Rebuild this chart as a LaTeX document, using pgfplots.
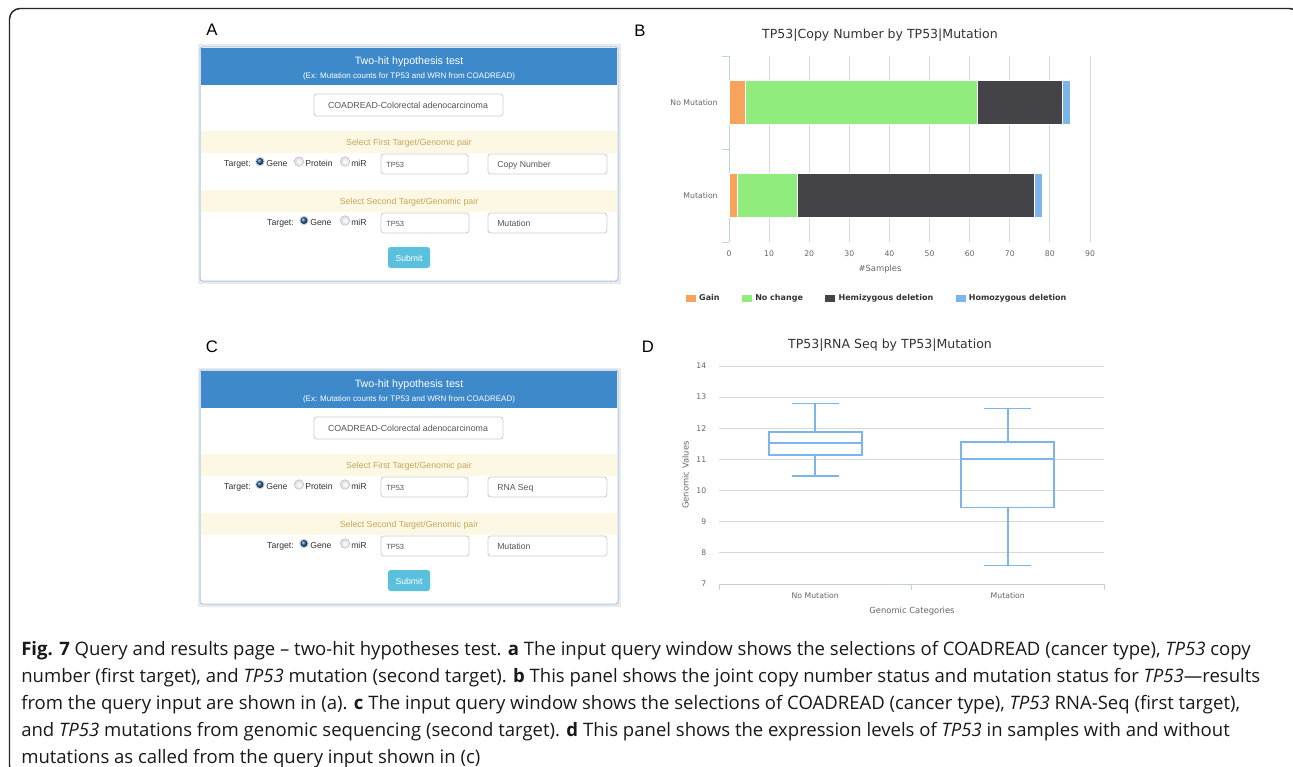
\documentclass[border=0pt]{standalone}
\usepackage{pgfplots}
\pgfplotsset{compat=1.18}
\usepgfplotslibrary{statistics}
\usepackage{fontspec}
\setmainfont{Liberation Sans}
\newfontfamily\chartf{DejaVu Sans}
\newfontfamily\capf{Open Sans}
\newfontfamily\formf{Liberation Sans}
\newcommand{\fsz}[1]{\fontsize{#1}{#1}\selectfont}

\definecolor{hcorange}{HTML}{F7A35C}
\definecolor{hcgreen}{HTML}{90ED7D}
\definecolor{hcdark}{HTML}{434348}
\definecolor{hcblue}{HTML}{7CB5EC}
\definecolor{gridgray}{HTML}{D8D8D8}
\definecolor{axisblue}{HTML}{C0D0E0}
\definecolor{tickgray}{HTML}{666666}
\definecolor{titlegray}{HTML}{333333}
\definecolor{hdrblue}{HTML}{3D89C9}
\definecolor{panelborder}{HTML}{A8CBEA}
\definecolor{bandyellow}{HTML}{FCF8E3}
\definecolor{bandtext}{HTML}{C9A55A}
\definecolor{inputborder}{HTML}{CCCCCC}
\definecolor{inputtext}{HTML}{555555}
\definecolor{btncyan}{HTML}{5BC0DE}
\definecolor{shadowgray}{HTML}{EAEAEA}
\definecolor{radioblue}{HTML}{1F5F9F}
\definecolor{formtext}{HTML}{333333}

\pgfplotstableread{
y  gain nochange hemi homo
0  2    15       59   2
1  4    58       21   2
}\cnvtable

\newcommand{\radioon}[2]{%
  \fill[gray!35] (#1,#2) circle (3.6pt);
  \shade[ball color=radioblue] (#1,#2) circle (2.6pt);}
\newcommand{\radiooff}[2]{%
  \shade[inner color=white, outer color=gray!30] (#1,#2) circle (3.6pt);
  \draw[gray!55, line width=0.3pt] (#1,#2) circle (3.6pt);}

\newcommand{\form}[2]{%
\begin{scope}[shift={(0,#1)}]
  \fill[shadowgray] (198,44.5) rectangle (620.5,283.5);
  \filldraw[fill=white, draw=panelborder, line width=0.75pt, rounded corners=2pt] (200,47) rectangle (618,281);
  \fill[hdrblue] (200.6,47.6) rectangle (617.4,85);
  \node[text=white, font=\formf\fsz{8}, anchor=mid] at (409,61) {Two-hit hypothesis test};
  \node[text=white, font=\formf\fsz{6}, anchor=mid] at (409,74.5) {(Ex: Mutation counts for TP53 and WRN from COADREAD)};
  \filldraw[fill=white, draw=inputborder, line width=0.6pt, rounded corners=2pt] (314,94) rectangle (503,116);
  \node[text=inputtext, font=\formf\fsz{6.6}, anchor=mid] at (408,105) {COADREAD-Colorectal adenocarcinoma};
  \fill[bandyellow] (200.8,131) rectangle (617.2,153);
  \node[text=bandtext, font=\formf\fsz{6.6}, anchor=mid] at (409,142) {Select First Target/Genomic pair};
  \node[text=formtext, font=\formf\fsz{6.5}, anchor=mid east, inner sep=0pt] at (251,163) {Target:};
  \radioon{260}{161.5}
  \node[text=formtext, font=\formf\fsz{6.5}, anchor=mid west, inner sep=0pt] at (266,163) {Gene};
  \radiooff{299}{161.5}
  \node[text=formtext, font=\formf\fsz{6.5}, anchor=mid west, inner sep=0pt] at (305,163) {Protein};
  \radiooff{345}{161.5}
  \node[text=formtext, font=\formf\fsz{6.5}, anchor=mid west, inner sep=0pt] at (351,163) {miR};
  \filldraw[fill=white, draw=inputborder, line width=0.6pt, rounded corners=2pt] (381,154) rectangle (468,174);
  \node[text=inputtext, font=\formf\fsz{5.6}, anchor=mid west, inner sep=0pt] at (386,164) {TP53};
  \filldraw[fill=white, draw=inputborder, line width=0.6pt, rounded corners=2pt] (488,154) rectangle (607,174);
  \node[text=inputtext, font=\formf\fsz{6.5}, anchor=mid west, inner sep=0pt] at (497,164) {#2};
  \fill[bandyellow] (200.8,190) rectangle (617.2,212);
  \node[text=bandtext, font=\formf\fsz{6.6}, anchor=mid] at (409,201) {Select Second Target/Genomic pair};
  \node[text=formtext, font=\formf\fsz{6.5}, anchor=mid east, inner sep=0pt] at (294,222) {Target:};
  \radioon{304}{220.5}
  \node[text=formtext, font=\formf\fsz{6.5}, anchor=mid west, inner sep=0pt] at (310,222) {Gene};
  \radiooff{345}{220.5}
  \node[text=formtext, font=\formf\fsz{6.5}, anchor=mid west, inner sep=0pt] at (351,222) {miR};
  \filldraw[fill=white, draw=inputborder, line width=0.6pt, rounded corners=2pt] (381,213) rectangle (469,233);
  \node[text=inputtext, font=\formf\fsz{5.6}, anchor=mid west, inner sep=0pt] at (386,223) {TP53};
  \filldraw[fill=white, draw=inputborder, line width=0.6pt, rounded corners=2pt] (488,213) rectangle (607,233);
  \node[text=inputtext, font=\formf\fsz{6.5}, anchor=mid west, inner sep=0pt] at (497,223) {Mutation};
  \fill[btncyan, rounded corners=2pt] (388,247) rectangle (430,268);
  \node[text=white, font=\formf\fsz{6.5}, anchor=mid] at (409,257.5) {Submit};
\end{scope}}

\pgfplotsset{
  hcbar/.style={fill=#1, draw=white, line width=0.5pt,
    legend image code/.code={\fill[fill=#1] (0pt,-3pt) rectangle (8.25pt,3pt);}},
}

\begin{document}
\begin{tikzpicture}[x=0.75pt, y=-0.75pt]
\path[use as bounding box] (0,0) rectangle (1293,767);
\fill[white] (0,0) rectangle (1293,767);
\draw[line width=1.1pt, black!85, rounded corners=8pt] (9.5,8.5) rectangle (1300,776);

% panel labels
\node[font=\formf\fsz{12.5}, anchor=mid] at (212,32) {A};
\node[font=\formf\fsz{12.5}, anchor=mid] at (640,33) {B};
\node[font=\formf\fsz{12.5}, anchor=mid] at (212,349) {C};
\node[font=\formf\fsz{12.5}, anchor=mid] at (648,349) {D};

% forms
\form{0}{Copy Number}
\form{323}{RNA Seq}

% ---- Panel B ----
\node[font=\chartf\fsz{9.4}, text=titlegray, anchor=mid] at (880,35) {TP53|Copy Number by TP53|Mutation};
\begin{axis}[
  at={(546.75pt,-181.5pt)}, anchor=south west,
  scale only axis, width=270.75pt, height=139.5pt,
  xbar stacked, bar width=0.47,
  xmin=0, xmax=90, ymin=-0.5, ymax=1.5,
  xtick={0,10,...,90}, ytick={0,1}, yticklabels={Mutation,No Mutation},
  major tick length=0pt,
  extra y ticks={-0.5,0.5,1.5}, extra y tick labels={},
  extra y tick style={major tick length=5.25pt, tick align=outside, major tick style={draw=axisblue, line width=0.75pt}},
  xmajorgrids, major grid style={draw=gridgray, line width=0.75pt},
  axis x line*=bottom, axis y line*=left,
  x axis line style={draw=none}, y axis line style={-, draw=axisblue, line width=0.75pt},
  tick label style={font=\chartf\fsz{5.8}, text=tickgray},
  /pgf/number format/assume math mode=true,
  yticklabel style={xshift=-5pt},
  xticklabel style={yshift=-3pt},
  legend columns=4,
  legend cell align=left,
  legend style={at={(-0.123,-0.301)}, anchor=west, draw=none, fill=none, inner sep=0pt,
    font=\chartf\bfseries\fsz{6}, text=titlegray,
    /tikz/every even column/.append style={column sep=14pt}},
]
\addplot[hcbar=hcorange] table[x=gain, y=y] {\cnvtable};
\addlegendentry{Gain}
\addplot[hcbar=hcgreen] table[x=nochange, y=y] {\cnvtable};
\addlegendentry{No change}
\addplot[hcbar=hcdark] table[x=hemi, y=y] {\cnvtable};
\addlegendentry{Hemizygous deletion}
\addplot[hcbar=hcblue] table[x=homo, y=y] {\cnvtable};
\addlegendentry{Homozygous deletion}
\end{axis}
\node[font=\chartf\fsz{6.3}, text=tickgray, anchor=mid] at (880,268) {\#Samples};

% ---- Panel D ----
\node[font=\chartf\fsz{9.4}, text=titlegray, anchor=mid] at (890,345) {TP53|RNA Seq by TP53|Mutation};
\begin{axis}[
  at={(539.25pt,-438pt)}, anchor=south west,
  scale only axis, width=288.75pt, height=163.5pt,
  xmin=0.5, xmax=2.5, ymin=7, ymax=14,
  ytick={7,...,14}, xtick={1,2}, xticklabels={No Mutation,Mutation},
  major tick length=0pt,
  extra x ticks={0.5,1.5,2.5}, extra x tick labels={},
  extra x tick style={major tick length=4.5pt, tick align=outside, major tick style={draw=axisblue, line width=0.75pt}},
  ymajorgrids, major grid style={draw=gridgray, line width=0.75pt},
  axis x line*=bottom, axis y line*=left,
  x axis line style={-, draw=axisblue, line width=0.75pt}, y axis line style={draw=none},
  tick label style={font=\chartf\fsz{5.8}, text=tickgray},
  /pgf/number format/assume math mode=true,
  yticklabel style={xshift=-6pt},
  xticklabel style={yshift=-3pt},
  boxplot/draw direction=y,
]
\addplot[hcblue, line width=1.2pt, solid, mark=none,
  boxplot prepared={draw position=1, lower whisker=10.46, lower quartile=11.14,
    median=11.53, upper quartile=11.89, upper whisker=12.80,
    box extend=0.483, whisker extend=0.243}] coordinates {};
\addplot[hcblue, line width=1.2pt, solid, mark=none,
  boxplot prepared={draw position=2, lower whisker=7.59, lower quartile=9.46,
    median=11.02, upper quartile=11.56, upper whisker=12.64,
    box extend=0.483, whisker extend=0.243}] coordinates {};
\end{axis}
\node[font=\chartf\fsz{6.3}, text=tickgray, anchor=mid, rotate=90] at (685,475) {Genomic Values};
\node[font=\chartf\fsz{6.3}, text=tickgray, anchor=mid] at (912,610) {Genomic Categories};

% ---- caption ----
\begin{scope}[every node/.style={anchor=base west, inner sep=0pt, font=\capf\fsz{13.9}, text=black!90}]
\node at (21,655) {\textbf{Fig. 7} Query and results page – two-hit hypotheses test. \textbf{a} The input query window shows the selections of COADREAD (cancer type), \textit{TP53} copy};
\node at (21,682) {number (first target), and \textit{TP53} mutation (second target). \textbf{b} This panel shows the joint copy number status and mutation status for \textit{TP53}—results};
\node at (21,709) {from the query input are shown in (a). \textbf{c} The input query window shows the selections of COADREAD (cancer type), \textit{TP53} RNA-Seq (first target),};
\node at (21,736) {and \textit{TP53} mutations from genomic sequencing (second target). \textbf{d} This panel shows the expression levels of \textit{TP53} in samples with and without};
\node at (21,763) {mutations as called from the query input shown in (c)};
\end{scope}
\end{tikzpicture}
\end{document}
